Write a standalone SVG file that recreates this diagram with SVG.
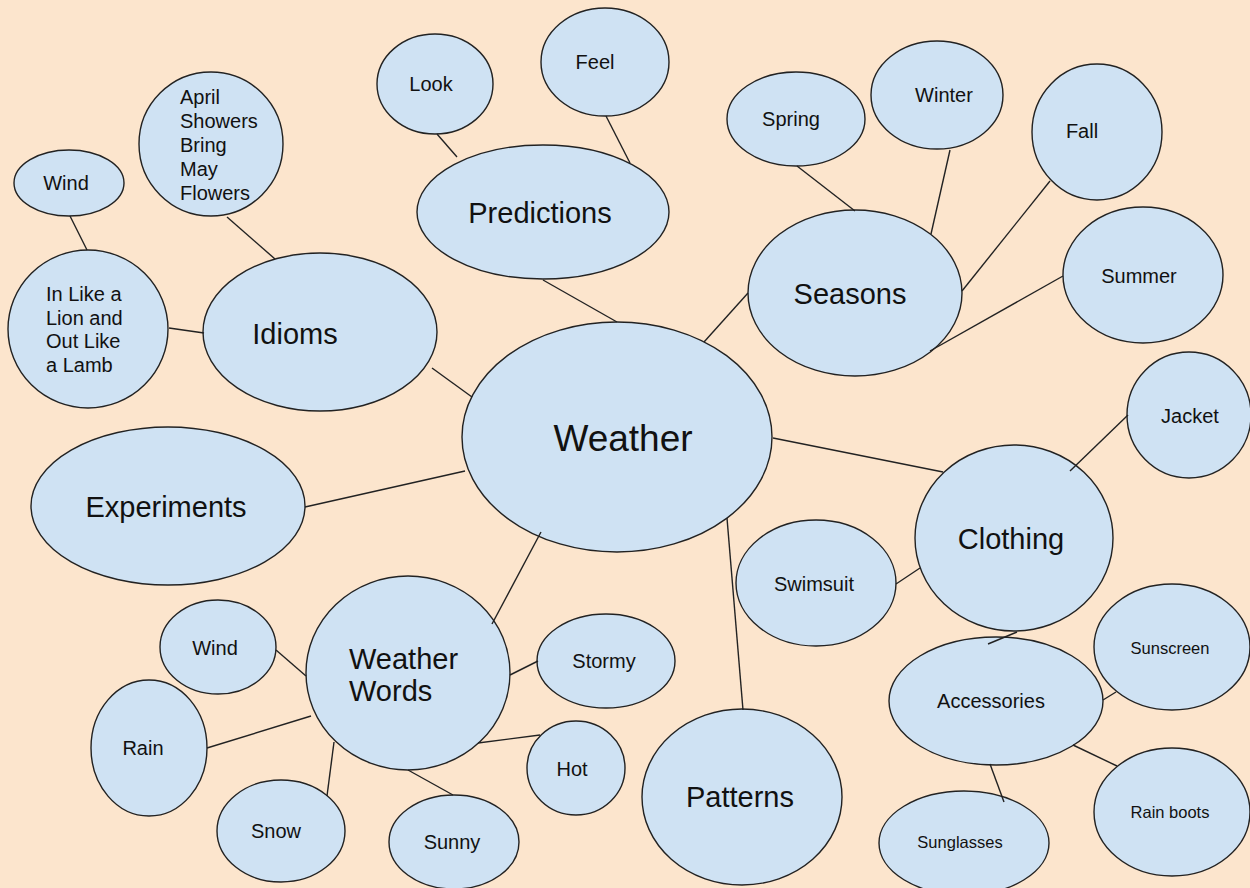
<svg xmlns="http://www.w3.org/2000/svg" width="1250" height="888" viewBox="0 0 1250 888">
  <style>
    .bg { fill: #fce5cd; }
    .node ellipse { fill: #cfe2f3; stroke: #222; stroke-width: 1.4; }
    .node text { font-family: "Liberation Sans", Arial, sans-serif; fill: #111; }
    .big text { font-size: 29px; }
    .small text { font-size: 20px; text-anchor: middle; }
    .tiny text { font-size: 16.5px; text-anchor: middle; }
    .lines text { font-size: 20px; }
    .mid { text-anchor: middle; }
    #connectors line { stroke: #222; stroke-width: 1.4; }
  </style>
  <rect class="bg" x="0" y="0" width="1250" height="888"/>

  <!-- nodes -->
  <g id="weather" class="node"><ellipse cx="617" cy="437" rx="155" ry="115"/><text class="mid" x="623" y="451" font-size="37">Weather</text></g>

  <g id="predictions" class="node big"><ellipse cx="543" cy="212" rx="126" ry="67"/><text class="mid" x="540" y="223">Predictions</text></g>
  <g id="look" class="node small"><ellipse cx="435" cy="84" rx="58" ry="50"/><text x="431" y="91">Look</text></g>
  <g id="feel" class="node small"><ellipse cx="605" cy="62" rx="64" ry="54"/><text x="595" y="69">Feel</text></g>

  <g id="seasons" class="node big"><ellipse cx="855" cy="293" rx="107" ry="83"/><text class="mid" x="850" y="304">Seasons</text></g>
  <g id="spring" class="node small"><ellipse cx="796" cy="119" rx="69" ry="47"/><text x="791" y="126">Spring</text></g>
  <g id="winter" class="node small"><ellipse cx="937" cy="95" rx="66" ry="54"/><text x="944" y="102">Winter</text></g>
  <g id="fall" class="node small"><ellipse cx="1097" cy="132" rx="65" ry="68"/><text x="1082" y="138">Fall</text></g>
  <g id="summer" class="node small"><ellipse cx="1143" cy="275" rx="80" ry="68"/><text x="1139" y="283">Summer</text></g>

  <g id="clothing" class="node big"><ellipse cx="1014" cy="538" rx="99" ry="93"/><text class="mid" x="1011" y="549">Clothing</text></g>
  <g id="jacket" class="node small"><ellipse cx="1189" cy="415" rx="62" ry="63"/><text x="1190" y="423">Jacket</text></g>
  <g id="swimsuit" class="node small"><ellipse cx="816" cy="583" rx="80" ry="63"/><text x="814" y="591">Swimsuit</text></g>
  <g id="accessories" class="node small"><ellipse cx="996" cy="701" rx="107" ry="64"/><text x="991" y="708">Accessories</text></g>
  <g id="sunscreen" class="node tiny"><ellipse cx="1172" cy="647" rx="78" ry="63"/><text x="1170" y="654">Sunscreen</text></g>
  <g id="rain-boots" class="node tiny"><ellipse cx="1172" cy="812" rx="78" ry="64"/><text x="1170" y="818">Rain boots</text></g>
  <g id="sunglasses" class="node tiny"><ellipse cx="964" cy="843" rx="85" ry="52"/><text x="960" y="848">Sunglasses</text></g>

  <g id="patterns" class="node big"><ellipse cx="742" cy="797" rx="100" ry="88"/><text class="mid" x="740" y="807">Patterns</text></g>

  <g id="weather-words" class="node big"><ellipse cx="408" cy="673" rx="102" ry="97"/><text x="349" y="669">Weather</text><text x="349" y="701">Words</text></g>
  <g id="stormy" class="node small"><ellipse cx="606" cy="661" rx="69" ry="47"/><text x="604" y="668">Stormy</text></g>
  <g id="hot" class="node small"><ellipse cx="576" cy="768" rx="49" ry="47"/><text x="572" y="776">Hot</text></g>
  <g id="sunny" class="node small"><ellipse cx="454" cy="842" rx="65" ry="47"/><text x="452" y="849">Sunny</text></g>
  <g id="snow" class="node small"><ellipse cx="281" cy="831" rx="64" ry="51"/><text x="276" y="838">Snow</text></g>
  <g id="rain" class="node small"><ellipse cx="149" cy="748" rx="58" ry="68"/><text x="143" y="755">Rain</text></g>
  <g id="wind-words" class="node small"><ellipse cx="218" cy="647" rx="58" ry="47"/><text x="215" y="655">Wind</text></g>

  <g id="experiments" class="node big"><ellipse cx="168" cy="506" rx="137" ry="79"/><text class="mid" x="166" y="517">Experiments</text></g>

  <g id="idioms" class="node big"><ellipse cx="320" cy="332" rx="117" ry="79"/><text class="mid" x="295" y="344">Idioms</text></g>
  <g id="lion-lamb" class="node lines"><ellipse cx="88" cy="329" rx="80" ry="79"/>
    <text x="46" y="301">In Like a</text>
    <text x="46" y="325">Lion and</text>
    <text x="46" y="348">Out Like</text>
    <text x="46" y="372">a Lamb</text>
  </g>
  <g id="april-showers" class="node lines"><ellipse cx="211" cy="144" rx="72" ry="72"/>
    <text x="180" y="104">April</text>
    <text x="180" y="128">Showers</text>
    <text x="180" y="152">Bring</text>
    <text x="180" y="176">May</text>
    <text x="180" y="200">Flowers</text>
  </g>
  <g id="wind-idioms" class="node small"><ellipse cx="69" cy="183" rx="55" ry="33"/><text x="66" y="190">Wind</text></g>

  <!-- connectors -->
  <g id="connectors">
    <line x1="543" y1="280" x2="617" y2="322"/>
    <line x1="437" y1="134" x2="457" y2="157"/>
    <line x1="606" y1="116" x2="630" y2="163"/>
    <line x1="704" y1="342" x2="748" y2="293"/>
    <line x1="797" y1="166" x2="855" y2="211"/>
    <line x1="950" y1="150" x2="931" y2="234"/>
    <line x1="1050" y1="181" x2="962" y2="291"/>
    <line x1="1063" y1="276" x2="930" y2="351"/>
    <line x1="773" y1="438" x2="943" y2="472"/>
    <line x1="1128" y1="415" x2="1070" y2="471"/>
    <line x1="896" y1="584" x2="920" y2="568"/>
    <line x1="1017" y1="632" x2="988" y2="644"/>
    <line x1="1103" y1="700" x2="1116" y2="692"/>
    <line x1="1073" y1="745" x2="1117" y2="766"/>
    <line x1="990" y1="764" x2="1004" y2="802"/>
    <line x1="727" y1="518" x2="743" y2="710"/>
    <line x1="541" y1="532" x2="492" y2="624"/>
    <line x1="465" y1="471" x2="305" y2="507"/>
    <line x1="432" y1="368" x2="472" y2="397"/>
    <line x1="169" y1="328" x2="204" y2="333"/>
    <line x1="227" y1="217" x2="275" y2="259"/>
    <line x1="70" y1="216" x2="87" y2="250"/>
    <line x1="276" y1="650" x2="306" y2="676"/>
    <line x1="207" y1="748" x2="311" y2="716"/>
    <line x1="334" y1="742" x2="327" y2="796"/>
    <line x1="408" y1="770" x2="453" y2="795"/>
    <line x1="478" y1="743" x2="540" y2="735"/>
    <line x1="510" y1="675" x2="538" y2="661"/>
  </g>
</svg>
